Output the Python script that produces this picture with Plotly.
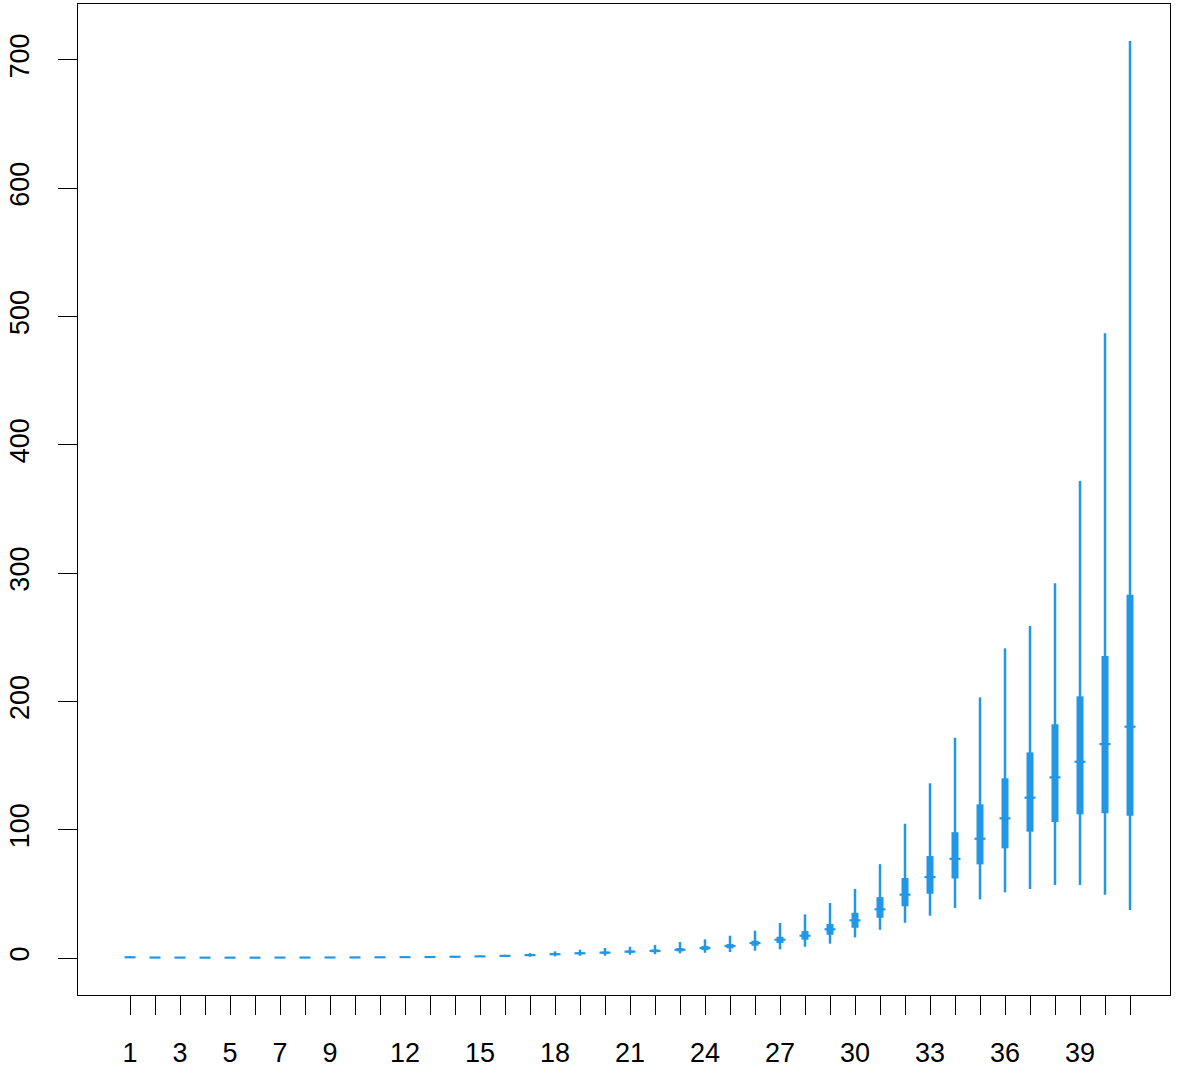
import plotly.graph_objects as go

groups = list(range(1, 42))

low = [0.1, 0.2, 0.15, 0.1, 0.1, 0.1, 0.15, 0.2, 0.25, 0.3, 0.35, 0.4, 0.5, 0.6, 0.8,
       1.0, 1.0, 1.3, 1.8, 1.8, 2.6, 3.0, 3.7, 4.1, 4.7, 5.7, 6.8, 8.8, 11.2, 16.1,
       22.0, 27.5, 33.0, 39.0, 45.7, 51.2, 53.8, 56.9, 56.9, 49.4, 37.4]
q1 = [0.4, 0.3, 0.25, 0.2, 0.2, 0.2, 0.25, 0.3, 0.35, 0.4, 0.5, 0.6, 0.7, 0.85, 1.1,
      1.4, 1.9, 2.5, 3.1, 3.5, 4.2, 4.6, 5.2, 6.2, 7.6, 9.6, 11.7, 14.3, 18.2, 23.6,
      31.4, 40.3, 50.1, 62.0, 73.0, 85.5, 98.5, 106.0, 112.0, 112.8, 111.0]
med = [0.6, 0.4, 0.35, 0.3, 0.3, 0.3, 0.35, 0.4, 0.45, 0.5, 0.6, 0.7, 0.8, 1.0, 1.3,
       1.7, 2.3, 3.0, 3.7, 4.2, 5.0, 5.6, 6.5, 7.8, 9.4, 11.7, 14.3, 17.4, 22.4, 29.4,
       38.0, 49.4, 63.1, 77.3, 93.0, 108.9, 125.0, 140.8, 153.0, 166.8, 180.3]
q3 = [0.9, 0.5, 0.45, 0.4, 0.4, 0.4, 0.45, 0.5, 0.55, 0.6, 0.7, 0.8, 0.9, 1.15, 1.5,
      2.0, 2.8, 3.6, 4.4, 5.0, 5.9, 6.6, 7.8, 9.4, 10.9, 13.5, 16.6, 21.0, 26.5, 35.3,
      47.5, 62.4, 79.5, 98.1, 119.8, 140.1, 160.3, 182.2, 204.0, 235.4, 283.2]
high = [1.6, 0.7, 0.6, 0.55, 0.55, 0.55, 0.6, 0.65, 0.7, 0.75, 0.9, 1.0, 1.2, 1.5, 2.0,
        2.6, 3.9, 5.2, 6.5, 7.8, 8.8, 10.2, 12.5, 14.6, 17.4, 21.3, 27.3, 34.0, 42.9, 53.8,
        73.2, 104.7, 136.2, 171.7, 203.2, 241.4, 258.8, 292.1, 371.8, 487.0, 714.8]

labeled = [1, 3, 5, 7, 9, 12, 15, 18, 21, 24, 27, 30, 33, 36, 39]
y_ticks = [0, 100, 200, 300, 400, 500, 600, 700]

COLOR = "#2297E6"
HALF = 0.22
FONT = "Liberation Sans, Arial, sans-serif"


def segs(xs, y0s, y1s):
    X, Y = [], []
    for x, a, b in zip(xs, y0s, y1s):
        X += [x, x, None]
        Y += [a, b, None]
    return X, Y


wx, wy = segs(groups, low, high)
bx, by = segs(groups, q1, q3)
mx, my = [], []
for g, m in zip(groups, med):
    mx += [g - HALF, g + HALF, None]
    my += [m, m, None]

fig = go.Figure()
fig.add_trace(go.Scatter(x=wx, y=wy, mode="lines", line=dict(color=COLOR, width=2.5),
                         hoverinfo="skip", showlegend=False))
fig.add_trace(go.Scatter(x=bx, y=by, mode="lines", line=dict(color=COLOR, width=7),
                         hoverinfo="skip", showlegend=False))
fig.add_trace(go.Scatter(x=mx, y=my, mode="lines", line=dict(color=COLOR, width=2.2),
                         hoverinfo="skip", showlegend=False))

fig.update_layout(
    width=1192, height=1072,
    margin=dict(l=78, r=22, t=4, b=77, autoexpand=False),
    paper_bgcolor="white", plot_bgcolor="white",
    font=dict(family=FONT, size=27, color="black"),
    showlegend=False,
)
fig.update_xaxes(
    range=[-1.08, 42.6], showgrid=False, zeroline=False, automargin=False,
    showline=True, mirror=True, linecolor="black", linewidth=1.3,
    ticks="outside", ticklen=19, tickwidth=1.3, tickcolor="black",
    tickmode="array", tickvals=groups,
    ticktext=[str(g) if g in labeled else "" for g in groups],
    ticklabelstandoff=14,
)
fig.update_yaxes(
    range=[-28.8, 743.6], showgrid=False, zeroline=False, automargin=False,
    showline=True, mirror=True, linecolor="black", linewidth=1.3,
    ticks="outside", ticklen=19, tickwidth=1.3, tickcolor="black",
    tickmode="array", tickvals=y_ticks, ticktext=[str(v) for v in y_ticks],
    tickangle=-90, ticklabelstandoff=18,
)

fig.write_html(
    "out.html",
    config={"displayModeBar": False},
    post_script="document.body.style.margin='0px';document.body.style.overflow='hidden';",
)
